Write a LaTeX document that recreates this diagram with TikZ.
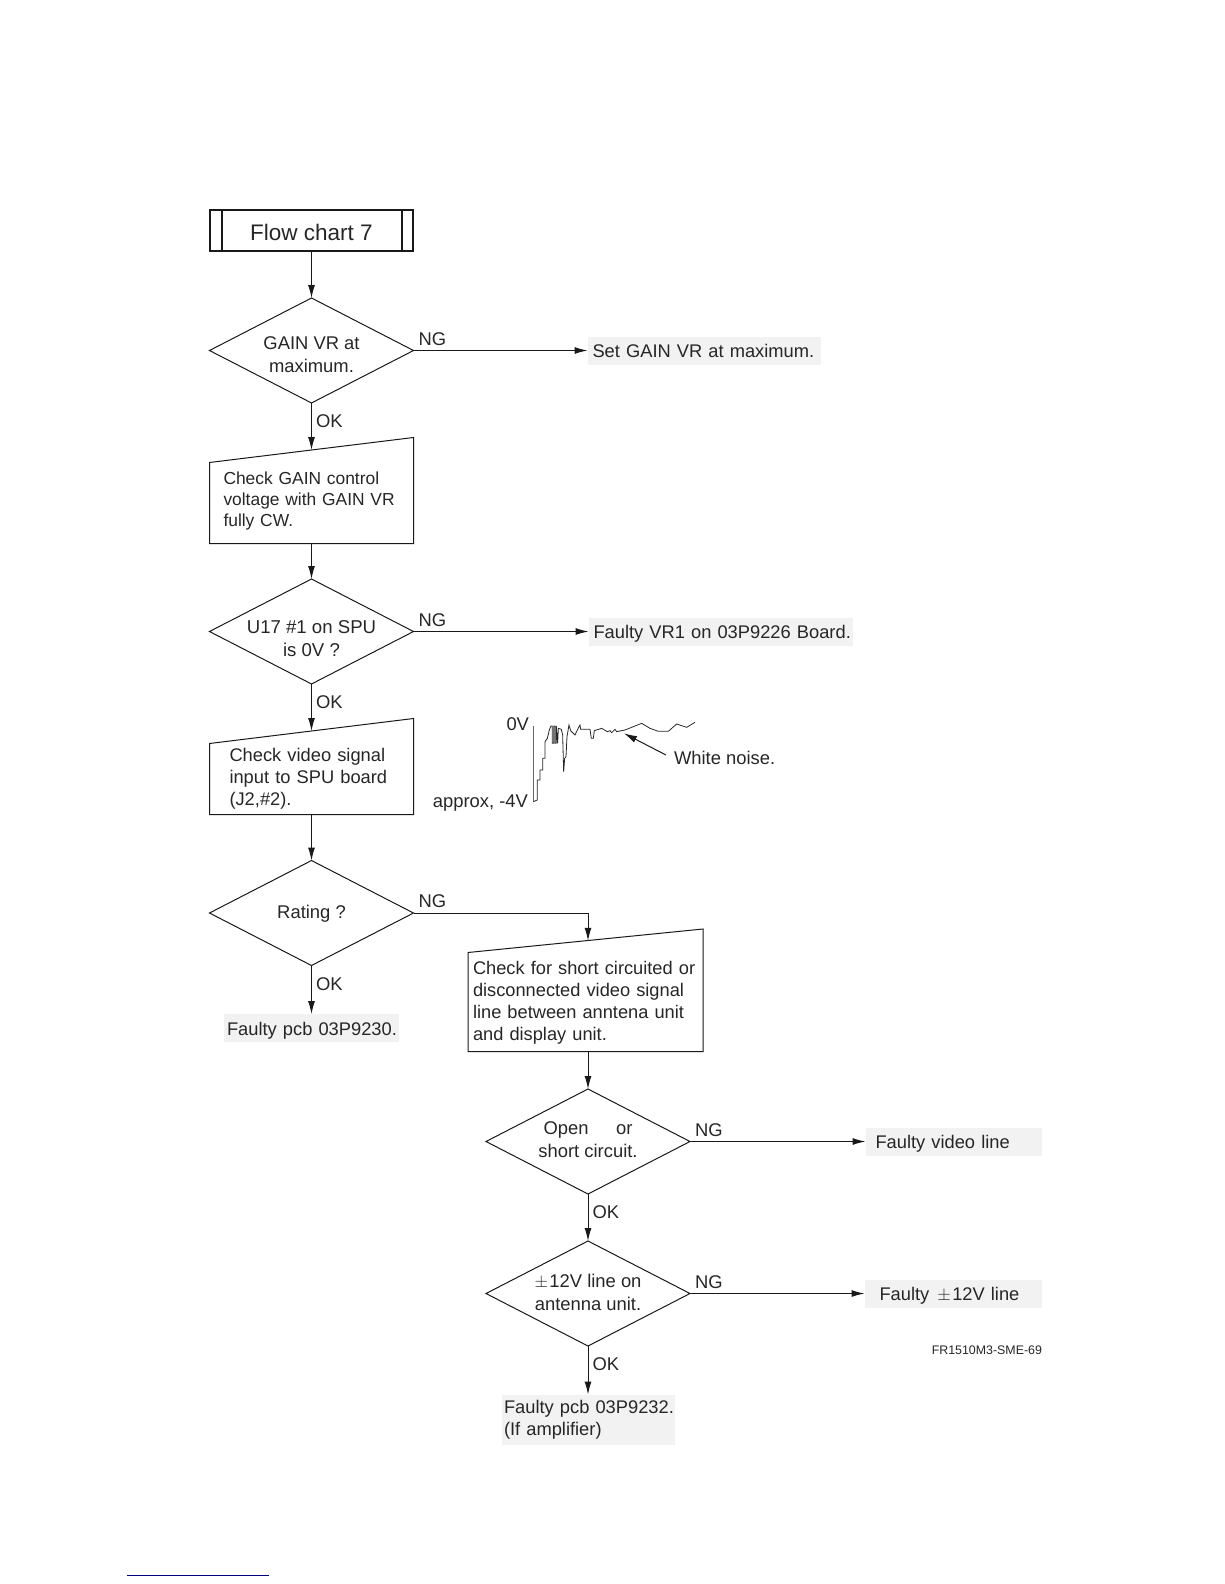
\documentclass[tikz,border=0pt]{standalone}
\usepackage{fontspec}
\setmainfont{Liberation Sans}
\usetikzlibrary{shapes.geometric,arrows.meta,positioning}

% text in a diamond, it must not widen the shape; #1 lifts it
\newcommand{\difftext}[2][0pt]{\raisebox{\dimexpr #1-4.5pt}[0pt][0pt]{\makebox[0pt]{\begin{tabular}{@{}c@{}}#2\end{tabular}}}}
% outline with a rising top edge round a check node
\newcommand{\slantbox}[2]{
  \draw [outline] (#1.south west) -- (#1.south east) -- ([yshift=#2]#1.north east)
    -- (#1.north west) -- cycle;
  \coordinate (#1top) at ([yshift=#2/2]#1.north);
}

\begin{document}
\begin{tikzpicture}[x=1pt,y=-1pt]
\tikzstyle{outline} = [draw=black!90, line width=1pt]
\tikzstyle{head} = [rectangle, draw=black!90, line width=1.7pt, minimum width=203pt, minimum height=41pt,
    outer sep=0pt, text height=20pt, text depth=0pt, font=\fontsize{22.5}{26}\selectfont, text=black!85]
\tikzstyle{decision} = [diamond, draw=black!90, line width=1pt, aspect=2, inner sep=0pt, outer sep=0pt,
    minimum width=204pt, minimum height=105pt, font=\fontsize{18.4}{23}\selectfont, text=black!85]
\tikzstyle{check} = [rectangle, minimum height=81pt, inner xsep=0pt, inner ysep=0pt, outer sep=0pt, align=left,
    font=\fontsize{17.4}{20.8}\selectfont, text=black!85]
\tikzstyle{plain} = [inner sep=0pt, outer sep=0pt, font=\fontsize{18.4}{22}\selectfont, text=black!85]
\tikzstyle{line} = [draw=black!90, line width=1pt, -{Latex[length=13pt,width=7pt]}]
\tikzstyle{ng} = [plain, pos=0, anchor=south west, xshift=5pt, yshift=5pt]
\tikzstyle{ok} = [plain, pos=0, anchor=north west, xshift=4.5pt, yshift=-12pt]
\tikzset{result/.style 2 args={rectangle, fill=black!5, minimum height=28pt, outer sep=0pt, align=left,
    text width=#1pt-2*#2pt, inner xsep=#2pt, inner ysep=0pt, font=\fontsize{18.3}{22.5}\selectfont, text=black!85,
    execute at begin node={\rule[-4pt]{0pt}{22pt}}}}

\useasboundingbox (0,0) rectangle (1224,1584);

\node [head] (title) at (311.5,230.5) {Flow chart 7};
\draw [head] ([xshift=12pt]title.north west) -- ([xshift=12pt]title.south west);
\draw [head] ([xshift=-11pt]title.north east) -- ([xshift=-11pt]title.south east);

\node [decision, below=47pt of title] (gain) {\difftext[-6pt]{GAIN VR at\\maximum.}};
\node [result={233.5}{5}, right=174pt of gain] (setgain) {\mbox{Set GAIN VR at maximum.}};

\node [check, below=59.5pt of gain, minimum width=204pt, text width=176pt] (gaincheck)
  {Check GAIN control\\voltage with GAIN VR\\fully CW.\rule[-8pt]{0pt}{0pt}};
\slantbox{gaincheck}{25pt}

\node [decision, below=35.5pt of gaincheck, font=\fontsize{18.6}{23}\selectfont] (u17) {\difftext[-9pt]{U17 \#1 on SPU\\is 0V ?}};
\node [result={264.5}{5}, right=175pt of u17] (vr1) {\mbox{Faulty VR1 on 03P9226 Board.}};

\node [check, below=59.5pt of u17, minimum width=204pt, minimum height=71pt, text width=164pt,
  font=\fontsize{18.3}{22}\selectfont] (video) {Check video signal\\input to SPU board\\(J2,\#2).};
\slantbox{video}{25pt}

\node [decision, below=46pt of video] (rating) {\difftext[-1pt]{Rating ?}};
\node [result={175}{3}, below=48.5pt of rating, execute at begin node={\rule[-4pt]{0pt}{20pt}}] (pcb30)
  {\mbox{Faulty pcb 03P9230.}};

\node [check, minimum width=235pt, minimum height=99pt, text width=225pt,
  font=\fontsize{18.25}{22}\selectfont] (short) at (585.5,1002)
  {\rule{0pt}{14.5pt}Check for short circuited or\\disconnected video signal\\line between anntena unit\\and display unit.};
\slantbox{short}{23.5pt}

\node [decision, below=37.5pt of short, xshift=2.5pt] (open) {\difftext{Open\hspace{1.5em}or\\short circuit.}};
\node [result={176.5}{10}, right=175.5pt of open] (videoline) {\mbox{Faulty video line}};

\node [decision, below=47pt of open] (line12) {\difftext[-1pt]{$\pm$\kern1.5pt 12V line on\\antenna unit.}};
\node [result={177.5}{15}, right=174.5pt of line12] (faulty12) {\mbox{Faulty\hspace{8pt}$\pm$\kern1.5pt 12V line}};

\node [result={173}{2.5}, minimum height=50pt, below=48.5pt of line12, execute at begin node={}] (pcb32)
  {\mbox{Faulty pcb 03P9232.}\\\mbox{(If amplifier)}\rule[-8pt]{0pt}{0pt}};

\node [plain, font=\fontsize{12.4}{14}\selectfont, anchor=east] (figno) at (1042,1350) {FR1510M3-SME-69};

% connectors
\path [line] (title) -- (gain);
\path [line] (gain) -- node [ng] {NG} (setgain);
\path [line] (gain) -- node [ok] {OK} (gainchecktop);
\path [line] (gaincheck) -- (u17);
\path [line] (u17) -- node [ng] {NG} (vr1);
\path [line] (u17) -- node [ok] {OK} (videotop);
\path [line] (video) -- (rating);
\path [line] (rating) -- node [ok] {OK} (pcb30);
\path [line] (rating.east) -| node [ng] {NG} (open.north |- shorttop);
\path [line] (short.south -| open) -- (open);
\path [line] (open) -- node [ng] {NG} (videoline);
\path [line] (open) -- node [ok] {OK} (line12);
\path [line] (line12) -- node [ng] {NG} (faulty12);
\path [line] (line12) -- node [ok] {OK} (pcb32);

% waveform
\node [plain, anchor=east] (zero) at (529,724) {0V};
\node [plain, anchor=east] (minus) at (528,803) {approx, -4V};
\node [plain, anchor=west] (noise) at (674,758) {White noise.};
\begin{scope}[shift={(420,690)},x=.3333pt,y=-.3333pt]
\draw [black!60, line width=1pt] (340,108) -- (340,335);
\draw [black!85, line width=.8pt] plot coordinates {(340,335) (352,330) (352,270) (360,270) (360,240) (368,240) (368,205) (375,205)
  (375,155) (382,145) (388,120) (393,108) (397,108) (397,160) (401,160) (401,108) (405,108) (405,160) (409,160) (409,108)
  (413,160) (415,115) (424,118) (428,135) (431,245) (434,205) (438,200) (441,140) (447,105) (452,122) (465,135) (472,120)
  (480,105) (482,118) (510,118) (514,145) (520,145) (523,122) (545,115) (562,125) (570,122) (575,128) (585,118) (590,125)
  (615,120) (635,112) (665,100) (690,115) (715,124) (745,124) (770,102) (800,112) (825,97)};
\coordinate (noisetip) at (612,130);
\end{scope}
\coordinate (noisetail) at ([xshift=-8pt,yshift=3pt]noise.west);
\path [line] (noisetail) -- (noisetip);

\draw [blue!50!black, line width=1.3pt] (127,1575.3) -- (269,1575.3);
\end{tikzpicture}
\end{document}
